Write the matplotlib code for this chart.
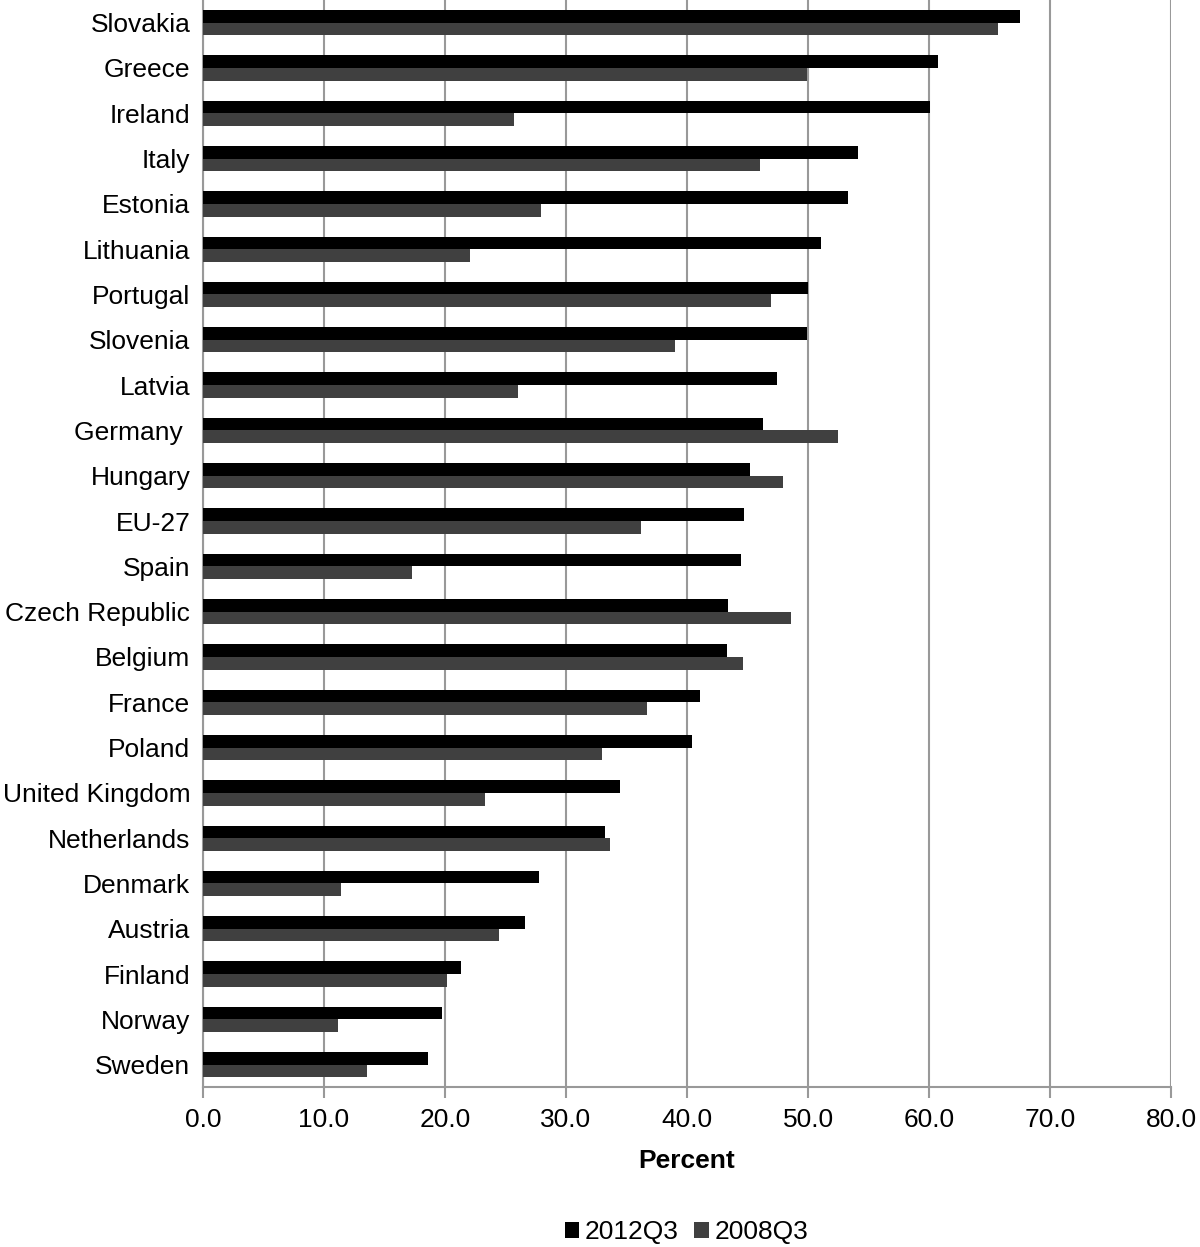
import matplotlib.pyplot as plt
import numpy as np

plt.rcParams['font.family'] = ['Liberation Sans', 'DejaVu Sans']

countries = ['Slovakia', 'Greece', 'Ireland', 'Italy', 'Estonia', 'Lithuania',
             'Portugal', 'Slovenia', 'Latvia', 'Germany ', 'Hungary', 'EU-27',
             'Spain', 'Czech Republic', 'Belgium', 'France', 'Poland',
             'United Kingdom', 'Netherlands', 'Denmark', 'Austria', 'Finland',
             'Norway', 'Sweden']
q2012 = [67.5, 60.7, 60.1, 54.1, 53.3, 51.1, 50.0, 49.9, 47.4, 46.3, 45.2, 44.7,
         44.5, 43.4, 43.3, 41.1, 40.4, 34.5, 33.2, 27.8, 26.6, 21.3, 19.8, 18.6]
q2008 = [65.7, 49.9, 25.7, 46.0, 27.9, 22.1, 46.9, 39.0, 26.0, 52.5, 47.9, 36.2,
         17.3, 48.6, 44.6, 36.7, 33.0, 23.3, 33.6, 11.4, 24.5, 20.2, 11.2, 13.6]

fs = 19

fig = plt.figure(figsize=(12, 12.47), dpi=100)
ax = fig.add_axes([0.169, 0.128, 0.807, 0.872])

y = np.arange(len(countries))
h = 0.28
ax.barh(y - h / 2, q2012, height=h, color='#000000', label='2012Q3', zorder=3)
ax.barh(y + h / 2, q2008, height=h, color='#404040', label='2008Q3', zorder=3)

ax.set_ylim(len(countries) - 0.5, -0.5)
ax.set_xlim(0, 80)
ax.set_xticks(np.arange(0, 81, 10))
ax.set_xticklabels(['%.1f' % v for v in np.arange(0, 81, 10)], fontsize=fs)
ax.set_yticks(y)
ax.set_yticklabels(countries, fontsize=fs)
ax.tick_params(axis='y', length=0, pad=9)
ax.tick_params(axis='x', length=8, width=1.5, color='#999999', pad=7)
ax.grid(axis='x', color='#999999', linewidth=1.5, zorder=0)
for s in ['top', 'right']:
    ax.spines[s].set_visible(False)
for s in ['left', 'bottom']:
    ax.spines[s].set_color('#999999')
    ax.spines[s].set_linewidth(1.5)
ax.set_xlabel('Percent', fontsize=fs, fontweight='bold', labelpad=12)

fig.legend(loc='lower center', bbox_to_anchor=(0.572, -0.017), ncol=2, frameon=False,
           fontsize=fs, handlelength=0.55, handleheight=0.55, handletextpad=0.2,
           columnspacing=0.6)

fig.savefig('out.png', dpi=100)
